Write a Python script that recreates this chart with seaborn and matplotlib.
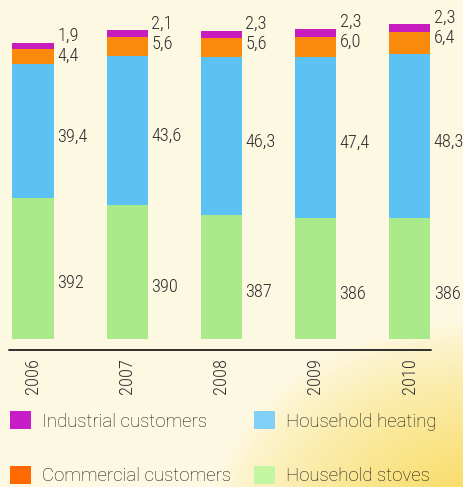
import numpy as np
import pandas as pd
import matplotlib
matplotlib.use("Agg")
import matplotlib.pyplot as plt
from matplotlib import font_manager as fm
from matplotlib.patches import Patch
from matplotlib.lines import Line2D
import seaborn as sns

# data
years = ["2006", "2007", "2008", "2009", "2010"]
stoves = [392, 390, 387, 386, 386]
heating = [39.4, 43.6, 46.3, 47.4, 48.3]
commercial = [4.4, 5.6, 5.6, 6.0, 6.4]
industrial = [1.9, 2.1, 2.3, 2.3, 2.3]

series_names = ["Industrial customers", "Commercial customers", "Household heating", "Household stoves"]
bar_colors = ["#c81cbf", "#fa8a0c", "#5cc2f3", "#aaea8a"]
legend_colors = ["#c81cc8", "#ff6a00", "#80d0fa", "#c2f6a0"]
text_color = "#151515"
num_color = "#2e2e2e"

df = pd.DataFrame({"year": years, "stoves": stoves, "heating": heating,
                   "commercial": commercial, "industrial": industrial})
df["l1"] = df["stoves"]
df["l2"] = df["l1"] + df["heating"]
df["l3"] = df["l2"] + df["commercial"]
df["l4"] = df["l3"] + df["industrial"]

sns.set_theme(style="white")
plt.rcParams['font.family'] = ['Roboto', 'DejaVu Sans']
plt.rcParams['font.weight'] = 'light'

# numbers in the original are in a narrow DIN-like face; use a condensed one if there is one
installed = {f.name for f in fm.fontManager.ttflist}
num_font, num_size = "Roboto", 12.8
for cand in ["Roboto Condensed", "Open Sans Condensed", "Liberation Sans Narrow"]:
    if cand in installed:
        num_font, num_size = cand, 13.2
        break

W, H = 464, 487
fig = plt.figure(figsize=(W / 100, H / 100), dpi=100)

# cream background with a yellow wash in the lower right
bg = fig.add_axes([0, 0, 1, 1], zorder=-10)
yy, xx = np.mgrid[0:1:300j, 0:1:300j]
w = np.clip(1 - np.sqrt(((xx - 1.05) / 0.6) ** 2 + ((yy - 1.08) / 0.42) ** 2), 0, 1) ** 0.8
base = np.array([0.995, 0.975, 0.89])
yellow = np.array([0.97, 0.85, 0.33])
img = base[None, None, :] * (1 - w[..., None]) + yellow[None, None, :] * w[..., None]
bg.imshow(img, extent=[0, 1, 1, 0], aspect="auto")
bg.set_axis_off()

ax = fig.add_axes([0, 148 / H, 1, 339 / H])
ax.patch.set_alpha(0)

# stacked bars: draw cumulative totals from the top layer down
for col, c in zip(["l4", "l3", "l2", "l1"], bar_colors):
    sns.barplot(data=df, x="year", y=col, color=c, saturation=1, width=0.44,
                linewidth=0, errorbar=None, ax=ax)

ax.set_ylim(350.5, 450.2)
ax.set_xlim(-0.352, 4.578)
sns.despine(ax=ax, left=True, bottom=True)
ax.set_yticks([])
ax.set_xlabel("")
ax.set_ylabel("")
ax.tick_params(axis="x", length=0, pad=14, labelcolor=num_color)
for t in ax.get_xticklabels():
    t.set_rotation(90)
    t.set_family(num_font)
    t.set_fontsize(num_size)

def fmt(v):
    return f"{v:.1f}".replace(".", ",")

lo = ax.get_ylim()[0]
for i, row in df.iterrows():
    x = i + 0.22
    kw = dict(textcoords="offset points", ha="left", va="center",
              fontsize=num_size, family=num_font, color=num_color)
    ax.annotate(f"{row['stoves']:.0f}", (x, (lo + row["l1"]) / 2), xytext=(2.4, -10.8), **kw)
    ax.annotate(fmt(row["heating"]), (x, row["l1"] + row["heating"] / 2), xytext=(2.4, -4), **kw)
    ax.annotate(fmt(row["commercial"]), (x, row["l4"]), xytext=(2.4, -9.4), **kw)
    ax.annotate(fmt(row["industrial"]), (x, row["l4"]), xytext=(2.4, 5.0), **kw)

# baseline rule under the bars
fig.add_artist(Line2D([9 / W, 431 / W], [137.5 / H, 137.5 / H], color="#1e1e1e", lw=1.3))

# legend, two columns placed separately
handles = [Patch(facecolor=c, edgecolor="none") for c in legend_colors]
leg_kw = dict(loc="upper left", frameon=False, borderpad=0, borderaxespad=0,
              handlelength=1.15, handleheight=1.15, handletextpad=0.55,
              labelspacing=1.9, fontsize=13.4, labelcolor=text_color)
fig.legend(handles[:2], series_names[:2], bbox_to_anchor=(10 / W, 1 - 411 / H), **leg_kw)
fig.legend(handles[2:], series_names[2:], bbox_to_anchor=(254 / W, 1 - 411 / H), **leg_kw)

fig.savefig("out.png", dpi=100)
